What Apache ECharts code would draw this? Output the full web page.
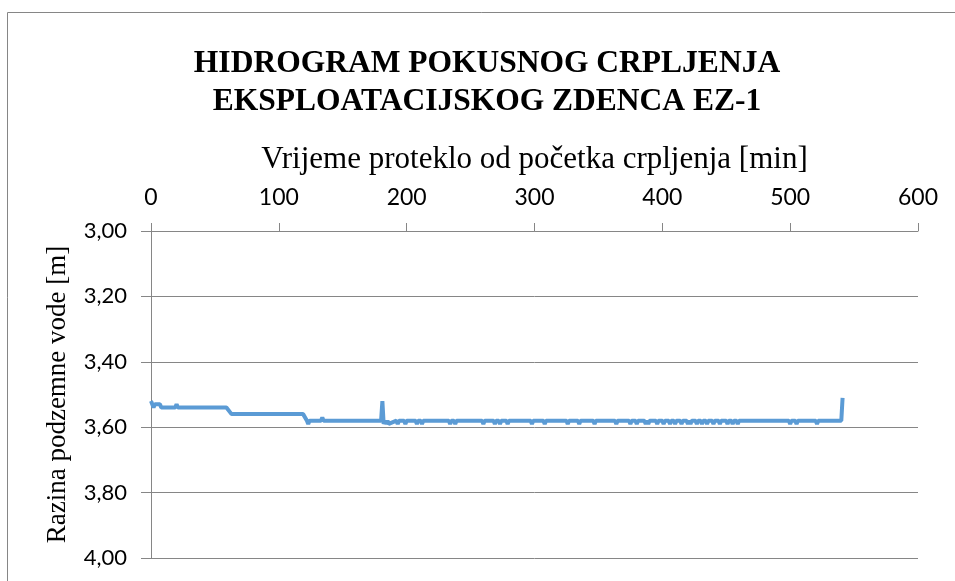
<!DOCTYPE html>
<html>
<head>
<meta charset="utf-8">
<script src="https://cdn.jsdelivr.net/npm/echarts@6/dist/echarts.min.js"></script>
<style>
  html, body { margin: 0; padding: 0; background: #fff; }
  #chart { width: 955px; height: 581px; }
</style>
</head>
<body>
<div id="chart"></div>
<script>
// vrijeme [min] i razina [m], očitano s grafa (samo lomne točke)
const minutes = [
  0, 1, 2, 3, 7, 8, 19, 20, 21, 59, 63, 119, 122, 123, 124, 133, 134, 135,
  180, 181, 182, 183, 184, 185, 186, 192, 193, 194, 198, 199, 200, 207, 208, 209,
  211, 212, 213, 233, 234, 235, 237, 238, 239, 259, 260, 261, 268, 269, 270,
  272, 273, 274, 278, 279, 280, 297, 298, 299, 307, 308, 309, 325, 326, 327,
  334, 335, 336, 346, 347, 348, 363, 364, 365, 374, 375, 376, 379, 380, 381,
  386, 387, 388, 389, 390, 391, 395, 396, 397, 400, 401, 402, 405, 406, 407,
  409, 410, 411, 414, 415, 416, 419, 420, 421, 422, 423, 424, 426, 427, 428,
  430, 431, 432, 434, 435, 436, 439, 440, 441, 444, 445, 446, 450, 451, 452,
  454, 455, 456, 458, 459, 460, 499, 500, 501, 504, 505, 506, 520, 521, 522,
  540, 541
];
const levels = [
  3.52, 3.53, 3.54, 3.53, 3.53, 3.54, 3.54, 3.53, 3.54, 3.54, 3.56, 3.56, 3.58, 3.59, 3.58, 3.58, 3.57, 3.58,
  3.58, 3.52, 3.59, 3.58, 3.59, 3.58, 3.59, 3.58, 3.59, 3.58, 3.58, 3.59, 3.58, 3.58, 3.59, 3.58,
  3.58, 3.59, 3.58, 3.58, 3.59, 3.58, 3.58, 3.59, 3.58, 3.58, 3.59, 3.58, 3.58, 3.59, 3.58,
  3.58, 3.59, 3.58, 3.58, 3.59, 3.58, 3.58, 3.59, 3.58, 3.58, 3.59, 3.58, 3.58, 3.59, 3.58,
  3.58, 3.59, 3.58, 3.58, 3.59, 3.58, 3.58, 3.59, 3.58, 3.58, 3.59, 3.58, 3.58, 3.59, 3.58,
  3.58, 3.59, 3.58, 3.59, 3.58, 3.58, 3.58, 3.59, 3.58, 3.58, 3.59, 3.58, 3.58, 3.59, 3.58,
  3.58, 3.59, 3.58, 3.58, 3.59, 3.58, 3.58, 3.59, 3.58, 3.59, 3.58, 3.58, 3.58, 3.59, 3.58,
  3.58, 3.59, 3.58, 3.58, 3.59, 3.58, 3.58, 3.59, 3.58, 3.58, 3.59, 3.58, 3.58, 3.59, 3.58,
  3.58, 3.59, 3.58, 3.58, 3.59, 3.58, 3.58, 3.59, 3.58, 3.58, 3.59, 3.58, 3.58, 3.59, 3.58,
  3.58, 3.51
];

const titleLines = ["HIDROGRAM POKUSNOG CRPLJENJA", "EKSPLOATACIJSKOG ZDENCA EZ-1"];
const xName = "Vrijeme proteklo od početka crpljenja [min]";
const yName = "Razina podzemne vode [m]";

const serif = '"Liberation Serif", "Times New Roman", serif';
const sans = 'Lato, "Open Sans", sans-serif';
const gridColor = "#868686";

const chart = echarts.init(document.getElementById("chart"), null, { renderer: "canvas" });
chart.setOption({
  animation: false,
  backgroundColor: "#fff",
  title: {
    text: titleLines.join("\n"),
    left: 482,
    top: 40,
    textAlign: "center",
    textStyle: {
      fontFamily: serif,
      fontWeight: "bold",
      fontSize: 31.5,
      lineHeight: 38,
      color: "#000",
    },
  },
  graphic: [
    {
      type: "rect",
      shape: { x: 7.5, y: 12.5, width: 1000, height: 700 },
      style: { fill: "none", stroke: gridColor, lineWidth: 1 },
      silent: true,
    },
  ],
  grid: { left: 151, right: 37, top: 231, bottom: 23 },
  xAxis: {
    type: "value",
    position: "top",
    min: 0,
    max: 600,
    interval: 100,
    name: xName,
    nameLocation: "middle",
    nameGap: 56,
    nameTextStyle: { fontFamily: serif, fontSize: 31, color: "#000" },
    axisLine: { show: true, lineStyle: { color: gridColor, width: 1 } },
    axisTick: { show: true, length: 8, lineStyle: { color: gridColor } },
    axisLabel: { fontFamily: sans, fontSize: 23, color: "#000", margin: 22 },
    splitLine: { show: false },
  },
  yAxis: {
    type: "value",
    inverse: true,
    min: 3,
    max: 4,
    interval: 0.2,
    name: yName,
    nameLocation: "middle",
    nameGap: 80,
    nameTextStyle: { fontFamily: serif, fontSize: 27, color: "#000" },
    axisLine: { show: true, lineStyle: { color: gridColor, width: 1 } },
    axisTick: { show: true, length: 10, lineStyle: { color: gridColor } },
    axisLabel: {
      fontFamily: sans,
      fontSize: 22,
      color: "#000",
      margin: 24,
      formatter: (v) => v.toFixed(2).replace(".", ","),
    },
    splitLine: { show: true, lineStyle: { color: gridColor, width: 1 } },
  },
  series: [
    {
      type: "line",
      data: minutes.map((t, i) => [t, levels[i]]),
      showSymbol: false,
      lineStyle: { color: "#5B9BD5", width: 4 },
      itemStyle: { color: "#5B9BD5" },
    },
  ],
});
</script>
</body>
</html>
